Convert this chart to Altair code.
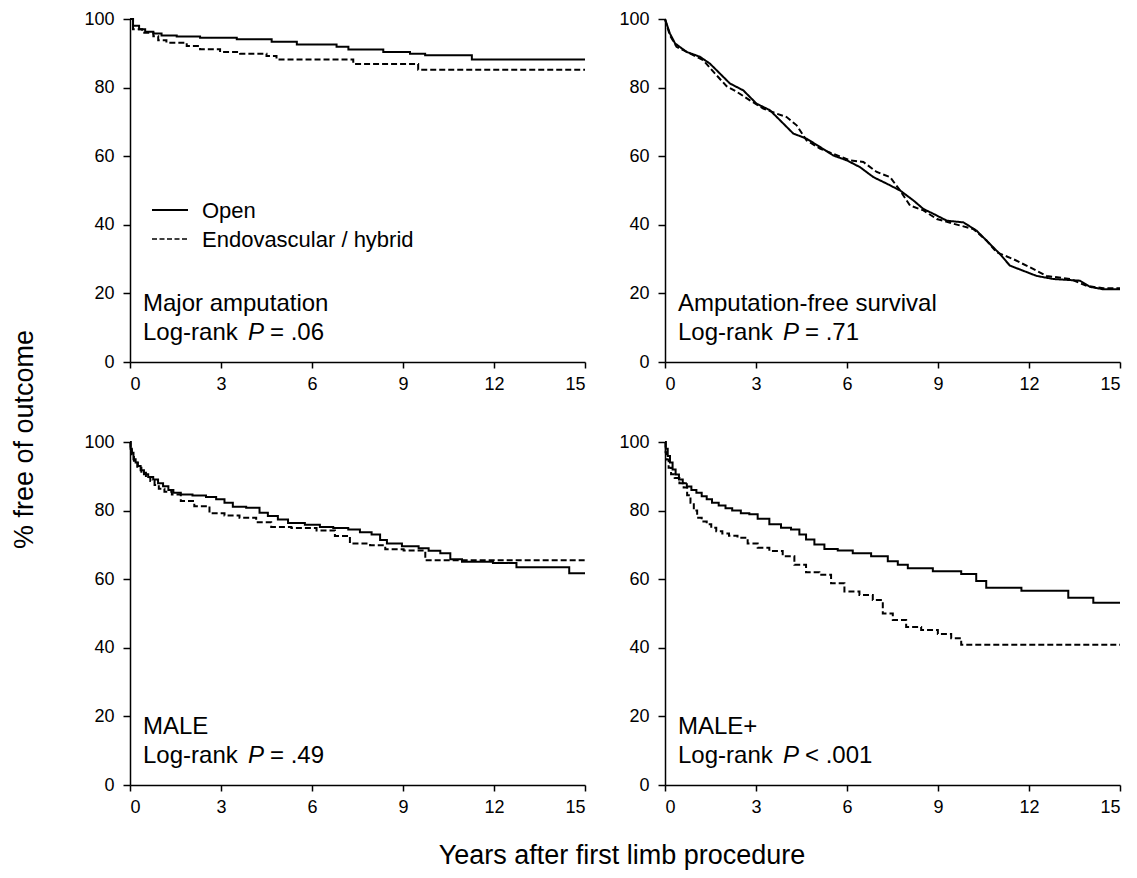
import altair as alt
import pandas as pd

FONT = "Liberation Sans"

years = [0, 3, 6, 9, 12, 15]
pct = [0, 20, 40, 60, 80, 100]
groups = ["Open", "Endovascular / hybrid"]
panel_names = ["Major amputation", "Amputation-free survival", "MALE", "MALE+"]
pvalue_text = ["= .06", "= .71", "= .49", "< .001"]

# Major amputation
amp_open_t = [0, 0.1, 0.3, 0.5, 0.77, 1.04, 1.54, 2.31, 3.52, 4.67, 5.5, 6.81, 7.2, 8.35, 9.23, 9.73, 11.27, 15]
amp_open_v = [100, 98, 97, 96.3, 95.8, 95.2, 94.9, 94.5, 94.1, 93.4, 92.6, 91.9, 91.1, 90.4, 89.9, 89.4, 88.2, 88.2]
amp_endo_t = [0, 0.1, 0.4, 0.77, 0.93, 1.2, 1.87, 2.31, 2.97, 3.63, 4.5, 4.83, 7.36, 9.5, 15]
amp_endo_v = [100, 97, 96, 95, 93.8, 93.1, 92.1, 91.2, 90.4, 89.9, 89.2, 88.2, 86.9, 85.2, 85.2]

# Amputation-free survival
afs_open_t = [0, 0.16, 0.33, 0.71, 1.15, 1.48, 1.81, 2.14, 2.58, 3.02, 3.46, 3.79, 4.23, 4.67, 5.11, 5.55,
              5.99, 6.43, 6.87, 7.31, 7.75, 8.19, 8.52, 8.85, 9.29, 9.84, 10.27, 10.6, 11.04, 11.37, 11.81,
              12.25, 12.8, 13.68, 14.01, 14.45, 15]
afs_open_v = [100, 95.8, 92.9, 90.4, 89.0, 87.0, 84.1, 81.2, 79.2, 75.3, 73.4, 70.5, 66.6, 65.1, 62.7, 60.2,
              58.8, 56.8, 53.9, 52.0, 50.0, 47.1, 44.6, 43.2, 41.2, 40.7, 38.3, 35.4, 31.5, 28.1, 26.6,
              25.1, 24.2, 23.7, 21.9, 21.2, 21.2]
afs_endo_t = [0, 0.16, 0.38, 0.82, 1.26, 1.70, 2.03, 2.36, 2.80, 3.24, 3.68, 4.01, 4.34, 4.67, 5.11, 5.55,
              6.10, 6.54, 6.98, 7.42, 7.75, 8.08, 8.52, 8.96, 9.51, 10.16, 10.60, 10.93, 11.48, 12.03, 12.58,
              13.35, 13.90, 14.45, 15]
afs_endo_v = [100, 95.3, 91.9, 90.0, 88.0, 83.6, 80.4, 78.8, 76.3, 73.9, 72.4, 71.4, 69.0, 64.6, 62.2, 60.7,
              58.8, 58.3, 55.4, 53.9, 50.0, 45.6, 44.2, 41.7, 40.3, 38.8, 35.4, 32.0, 30.0, 27.6, 25.1,
              24.2, 22.2, 21.5, 21.5]

# MALE
male_open_t = [0, 0.04, 0.08, 0.15, 0.22, 0.30, 0.40, 0.52, 0.68, 0.85, 1.0, 1.18, 1.35, 1.51, 1.84, 2.28,
               2.73, 2.95, 3.28, 3.50, 4.16, 4.38, 4.71, 5.04, 5.38, 6.15, 6.37, 7.03, 7.36, 7.80, 8.13, 8.36,
               8.58, 9.35, 9.68, 10.01, 10.45, 10.67, 11.22, 12.71, 12.77, 14.31, 14.65, 15]
male_open_v = [100, 98, 96.9, 95, 94, 93.0, 91.8, 90.6, 89.8, 89.1, 88, 87.1, 86, 85.2, 84.7, 84.4,
               84.0, 83.3, 82.3, 81.1, 80.8, 79.4, 78.4, 77.4, 76.4, 75.9, 75.2, 74.9, 74.5, 73.7, 73.0, 71.4,
               70.4, 69.6, 69.0, 68.3, 67.6, 65.8, 65.1, 64.7, 63.5, 63.5, 61.7, 61.7]
male_endo_t = [0, 0.04, 0.08, 0.18, 0.30, 0.45, 0.60, 0.74, 0.88, 1.02, 1.25, 1.51, 1.84, 2.40, 2.84, 3.39,
               3.83, 4.49, 4.82, 5.82, 6.48, 7.03, 7.47, 8.36, 8.47, 9.57, 9.90, 15]
male_endo_v = [100, 98, 96.4, 94.5, 92.5, 91, 89.7, 88.6, 87.5, 86.4, 85.5, 84.7, 82.8, 81.3, 79.2, 78.6,
               77.9, 76.6, 75.2, 74.9, 74.2, 72.6, 70.4, 69.9, 68.7, 68.4, 65.5, 65.5]

# MALE+
mp_open_t = [0, 0.05, 0.13, 0.20, 0.30, 0.40, 0.52, 0.65, 0.79, 0.95, 1.12, 1.30, 1.45, 1.65, 1.89, 2.10,
             2.33, 2.67, 2.89, 3.22, 3.66, 3.99, 4.32, 4.54, 4.76, 5.09, 5.42, 5.97, 6.41, 7.18, 7.51, 7.84,
             8.17, 9.49, 10.04, 10.48, 10.70, 12.80, 13.79, 14.45, 15]
mp_open_v = [100, 98, 95.9, 94, 92.0, 90.5, 89.1, 88, 87.0, 86, 85.2, 84.2, 83.3, 82.3, 81.5, 80.7,
             80.0, 79.2, 78.9, 77.6, 76.0, 75.0, 74.5, 73.0, 71.6, 70.1, 68.8, 68.4, 67.6, 66.7, 65.2, 64.2,
             63.2, 62.3, 61.5, 59.5, 57.5, 56.6, 54.6, 53.1, 53.1]
mp_endo_t = [0, 0.04, 0.08, 0.16, 0.24, 0.40, 0.55, 0.68, 0.78, 0.90, 1.0, 1.12, 1.30, 1.45, 1.60, 1.78,
             2.0, 2.22, 2.56, 2.89, 3.22, 3.66, 4.10, 4.43, 4.87, 5.31, 5.64, 6.19, 6.63, 7.07, 7.29, 7.73,
             8.17, 8.72, 9.27, 9.60, 9.93, 15]
mp_endo_v = [100, 97, 94.9, 92.5, 90.6, 89.5, 88, 86.7, 84.5, 82.3, 80, 77.9, 76.8, 76.0, 75, 74.0,
             73.3, 72.7, 72.1, 70.4, 69.2, 68.2, 66.7, 64.2, 62.0, 61.3, 58.8, 56.4, 55.4, 53.9, 50.0, 48.1,
             46.1, 45.2, 44.0, 42.8, 40.9, 40.9]

W, H = 455, 343
ONE = pd.DataFrame({"k": [0]})


def text_mark(txt, x, y, size=24, style="normal"):
    return alt.Chart(ONE).mark_text(
        align="left", baseline="alphabetic", font=FONT, fontSize=size,
        fontStyle=style, color="black"
    ).encode(x=alt.value(x), y=alt.value(y), text=alt.value(txt))


def axis(vals, tick, pad):
    return alt.Axis(values=vals, title=None, format="d", labelFont=FONT, labelFontSize=18,
                    labelColor="black", labelPadding=pad, tickSize=tick, tickColor="black",
                    tickWidth=1.5, domainColor="black", domainWidth=1.5, grid=False)


def panel(i, open_t, open_v, endo_t, endo_v, interp, legend=False):
    df = pd.DataFrame({
        "t": open_t + endo_t,
        "v": open_v + endo_v,
        "g": [groups[0]] * len(open_t) + [groups[1]] * len(endo_t),
    })
    lines = alt.Chart(df).mark_line(
        interpolate=interp, color="black", strokeWidth=2
    ).encode(
        x=alt.X("t:Q", scale=alt.Scale(domain=[0, 15], nice=False, zero=False),
                axis=axis(years, 6, 7)),
        y=alt.Y("v:Q", scale=alt.Scale(domain=[0, 100], nice=False),
                axis=axis(pct, 7, 9)),
        strokeDash=alt.StrokeDash("g:N", scale=alt.Scale(domain=groups, range=[[1, 0], [6, 3]]),
                                  legend=None),
    )
    layers = [lines,
              text_mark(panel_names[i], 13, 292),
              text_mark("Log-rank", 13, 321),
              text_mark("P", 118, 321, style="italic"),
              text_mark(pvalue_text[i], 140, 321)]
    if legend:
        layers += [
            alt.Chart(ONE).mark_rule(color="black", strokeWidth=2).encode(
                x=alt.value(22), x2=alt.value(58), y=alt.value(191)),
            alt.Chart(ONE).mark_rule(color="black", strokeWidth=1.5, strokeDash=[5, 2.5]).encode(
                x=alt.value(22), x2=alt.value(58), y=alt.value(220)),
            text_mark(groups[0], 72, 199, size=22),
            text_mark(groups[1], 72, 228, size=22),
        ]
    return alt.layer(*layers).properties(width=W, height=H)


p1 = panel(0, amp_open_t, amp_open_v, amp_endo_t, amp_endo_v, "step-after", legend=True)
p2 = panel(1, afs_open_t, afs_open_v, afs_endo_t, afs_endo_v, "linear")
p3 = panel(2, male_open_t, male_open_v, male_endo_t, male_endo_v, "step")
p4 = panel(3, mp_open_t, mp_open_v, mp_endo_t, mp_endo_v, "step")

row1 = alt.hconcat(p1, p2, spacing=29)
row2 = alt.hconcat(p3, p4, spacing=29)
inner = alt.vconcat(row1, row2, spacing=40).properties(
    title=alt.TitleParams("Years after first limb procedure", orient="bottom", anchor="middle",
                          fontSize=27, font=FONT, fontWeight="normal", color="black",
                          offset=27, dx=18)
)
chart = alt.hconcat(inner).properties(
    title=alt.TitleParams("% free of outcome", orient="left", anchor="middle",
                          fontSize=27, font=FONT, fontWeight="normal", color="black", offset=45),
    padding={"left": 2, "top": 2, "right": 5, "bottom": 5},
).configure_view(stroke=None)

chart.save("out.html", embed_options={"renderer": "svg", "actions": False})
